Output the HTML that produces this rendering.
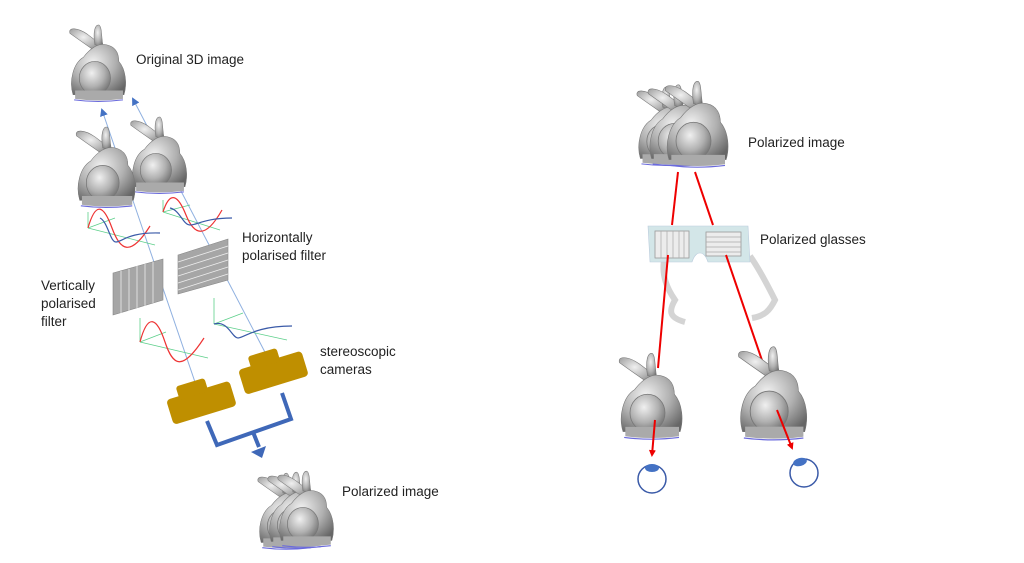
<!DOCTYPE html>
<html><head><meta charset="utf-8"><style>
html,body{margin:0;padding:0;background:#fff;}
svg{display:block}
text{font-family:"Liberation Sans",sans-serif;font-size:13.5px;fill:#222;}
</style></head><body>
<svg width="1024" height="563" viewBox="0 0 1024 563" xmlns="http://www.w3.org/2000/svg">
<defs>
<radialGradient id="g" cx="0.4" cy="0.35" r="0.75">
<stop offset="0" stop-color="#f0f0f0"/><stop offset="0.55" stop-color="#b0b0b0"/><stop offset="1" stop-color="#666"/>
</radialGradient>
<symbol id="b" viewBox="0 0 60 75">
<path d="M3,9 C1,3 10,3 20,10 L36,22 L30,28 Z" fill="url(#g)" stroke="#777" stroke-width="0.5"/>
<path d="M27,20 C25,8 27,0 31,1 C34,3 33,12 35,22 Z" fill="url(#g)" stroke="#777" stroke-width="0.5"/>
<path d="M6,68 C2,55 6,38 16,32 C22,24 30,18 38,20 C48,22 50,30 50,36 C57,44 58,58 55,68 Z" fill="url(#g)" stroke="#777" stroke-width="0.5"/>
<ellipse cx="27" cy="52" rx="15" ry="16" fill="url(#g)" stroke="#777" stroke-width="0.7"/>
<path d="M8,64 L54,64 L54,72 Q30,75 8,72 Z" fill="#aaa"/>
<path d="M7,73 Q30,76 54,73" stroke="#6a6adc" stroke-width="1" fill="none"/>
</symbol>
<marker id="ab" markerUnits="userSpaceOnUse" markerWidth="8" markerHeight="8" refX="6" refY="4" orient="auto"><path d="M0,0 L8,4 L0,8 Z" fill="#4472c4"/></marker>
<marker id="ar" markerUnits="userSpaceOnUse" markerWidth="7" markerHeight="7" refX="5" refY="3.5" orient="auto"><path d="M0,0 L7,3.5 L0,7 Z" fill="#e00"/></marker>
</defs>

<!-- left -->
<use href="#b" x="65" y="24" width="66" height="78"/>
<line x1="196" y1="385" x2="102" y2="110" stroke="#8fb0e0" stroke-width="1" marker-end="url(#ab)"/>
<line x1="268" y1="358" x2="133" y2="99" stroke="#8fb0e0" stroke-width="1" marker-end="url(#ab)"/>
<use href="#b" x="123" y="116" width="72" height="78"/>
<use href="#b" x="73" y="126" width="66" height="82"/>

<g fill="none" stroke-width="1.2">
<g stroke="#5ccf8a" stroke-width="0.8"><line x1="88" y1="228" x2="88" y2="212"/><line x1="88" y1="228" x2="115" y2="218"/><line x1="88" y1="228" x2="155" y2="245"/></g>
<path d="M88,228 C96,200 104,206 112,228 S130,258 150,226" stroke="#e33"/>
<path d="M100,218 C108,222 110,242 116,242 S128,232 160,233" stroke="#3a5aa8"/>
<g stroke="#5ccf8a" stroke-width="0.8"><line x1="163" y1="212" x2="163" y2="200"/><line x1="163" y1="212" x2="190" y2="205"/><line x1="163" y1="212" x2="220" y2="230"/></g>
<path d="M163,212 C170,190 178,195 186,215 S205,240 222,210" stroke="#e33"/>
<path d="M170,208 C180,210 183,225 190,225 S205,218 232,218" stroke="#3a5aa8"/>
<g stroke="#5ccf8a" stroke-width="0.8"><line x1="140" y1="342" x2="140" y2="318"/><line x1="140" y1="342" x2="166" y2="332"/><line x1="140" y1="342" x2="208" y2="358"/></g>
<path d="M140,342 C148,312 157,318 165,342 S182,372 204,338" stroke="#e33"/>
<g stroke="#5ccf8a" stroke-width="0.8"><line x1="214" y1="324" x2="214" y2="298"/><line x1="214" y1="324" x2="243" y2="313"/><line x1="214" y1="324" x2="287" y2="340"/></g>
<path d="M214,324 C228,320 232,338 238,338 S255,326 292,326" stroke="#3a5aa8"/>
</g>

<polygon points="113,273 163,259 163,300 113,315" fill="#a6a6a6" stroke="#888" stroke-width="0.6"/>
<g stroke="#eee" stroke-width="0.8"><line x1="121" y1="271" x2="121" y2="313"/><line x1="129" y1="269" x2="129" y2="311"/><line x1="137" y1="266" x2="137" y2="308"/><line x1="145" y1="264" x2="145" y2="306"/><line x1="153" y1="262" x2="153" y2="303"/></g>
<polygon points="178,255 228,239 228,280 178,294" fill="#a6a6a6" stroke="#888" stroke-width="0.6"/>
<g stroke="#eee" stroke-width="0.8"><line x1="178" y1="262" x2="228" y2="246"/><line x1="178" y1="269" x2="228" y2="253"/><line x1="178" y1="276" x2="228" y2="260"/><line x1="178" y1="283" x2="228" y2="267"/><line x1="178" y1="290" x2="228" y2="274"/></g>

<g fill="#bf8f00">
<g transform="translate(200,398) rotate(-17)"><rect x="-33" y="-8" width="66" height="26" rx="4"/><rect x="-20" y="-18" width="30" height="14" rx="3"/></g>
<g transform="translate(272,368) rotate(-17)"><rect x="-33" y="-8" width="66" height="26" rx="4"/><rect x="-20" y="-18" width="30" height="14" rx="3"/></g>
</g>
<polyline points="207,421 217,445 291,419 282,393" fill="none" stroke="#3f68b8" stroke-width="4"/>
<line x1="253" y1="432" x2="259" y2="447" stroke="#3f68b8" stroke-width="4"/>
<polygon points="251,452 266,446 262,458" fill="#3f68b8"/>

<use href="#b" x="255" y="472" width="62" height="78"/>
<use href="#b" x="265" y="470" width="62" height="80"/>
<use href="#b" x="275" y="468" width="62" height="82"/>

<text x="136" y="64">Original 3D image</text>
<text x="242" y="242">Horizontally</text>
<text x="242" y="260">polarised filter</text>
<text x="41" y="290">Vertically</text>
<text x="41" y="308">polarised</text>
<text x="41" y="326">filter</text>
<text x="320" y="356">stereoscopic</text>
<text x="320" y="374">cameras</text>
<text x="342" y="496">Polarized image</text>

<!-- right -->
<use href="#b" x="634" y="80" width="64" height="92"/>
<use href="#b" x="645" y="78" width="66" height="94"/>
<use href="#b" x="662" y="76" width="70" height="96"/>
<text x="748" y="147">Polarized image</text>
<text x="760" y="244">Polarized glasses</text>

<path d="M665,255 C660,275 668,290 675,300 C668,312 670,318 685,322" fill="none" stroke="#d4d4d4" stroke-width="6"/>
<path d="M750,256 C760,270 770,290 775,300 C770,310 765,316 752,318" fill="none" stroke="#d4d4d4" stroke-width="6"/>
<path d="M648,226 L748,226 L750,262 L708,262 C704,250 696,250 692,262 L650,262 Z" fill="#d3e6e8" stroke="#bcd" stroke-width="0.6"/>
<rect x="655" y="231" width="34" height="27" fill="#ececec" stroke="#999" stroke-width="0.8"/>
<g stroke="#aaa" stroke-width="0.7"><line x1="661" y1="231" x2="661" y2="258"/><line x1="667" y1="231" x2="667" y2="258"/><line x1="673" y1="231" x2="673" y2="258"/><line x1="679" y1="231" x2="679" y2="258"/><line x1="684" y1="231" x2="684" y2="258"/></g>
<rect x="706" y="232" width="35" height="24" fill="#ececec" stroke="#999" stroke-width="0.8"/>
<g stroke="#aaa" stroke-width="0.7"><line x1="706" y1="237" x2="741" y2="237"/><line x1="706" y1="242" x2="741" y2="242"/><line x1="706" y1="247" x2="741" y2="247"/><line x1="706" y1="252" x2="741" y2="252"/></g>

<g stroke="#e00" stroke-width="2" fill="none">
<line x1="678" y1="172" x2="672" y2="225"/>
<line x1="695" y1="172" x2="713" y2="225"/>
<line x1="668" y1="255" x2="658" y2="368"/>
<line x1="726" y1="255" x2="766" y2="372"/>
</g>
<use href="#b" x="616" y="350" width="70" height="92"/>
<use href="#b" x="735" y="345" width="76" height="96"/>
<line x1="655" y1="420" x2="652" y2="455" stroke="#e00" stroke-width="2" marker-end="url(#ar)"/>
<line x1="777" y1="410" x2="792" y2="448" stroke="#e00" stroke-width="2" marker-end="url(#ar)"/>
<circle cx="652" cy="479" r="14" fill="#fff" stroke="#3a5aa8" stroke-width="1.5"/>
<ellipse cx="652" cy="468" rx="7" ry="4" fill="#4472c4"/>
<circle cx="804" cy="473" r="14" fill="#fff" stroke="#3a5aa8" stroke-width="1.5"/>
<ellipse cx="800" cy="462" rx="7" ry="4" fill="#4472c4" transform="rotate(-15 800 462)"/>
</svg>
</body></html>
